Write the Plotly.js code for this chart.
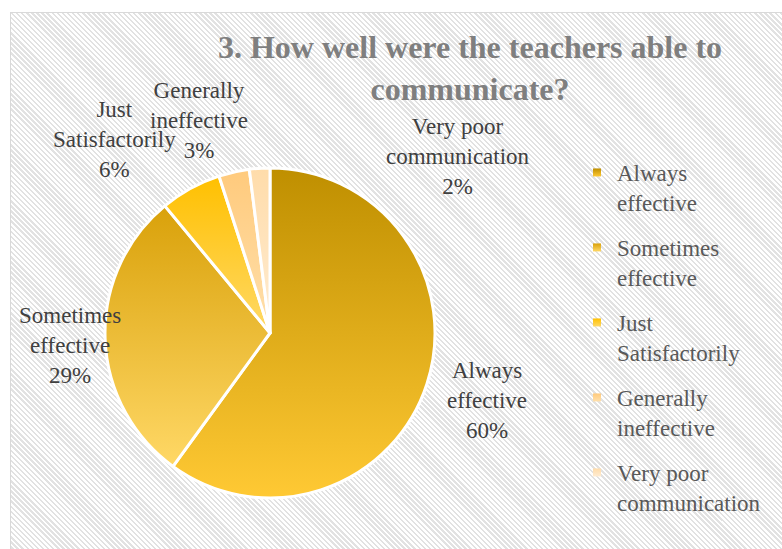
<!DOCTYPE html>
<html>
<head>
<meta charset="utf-8">
<script src="https://cdn.plot.ly/plotly-3.0.1.min.js"></script>
<style>
  html, body { margin: 0; padding: 0; background: #ffffff; }
  #wrap { position: relative; width: 782px; height: 549px; overflow: hidden; background: #ffffff; }
  #frame {
    position: absolute; left: 10px; top: 12px; width: 780px; height: 545px;
    border: 1px solid #d9d9d9; box-sizing: border-box;
    background: repeating-linear-gradient(45deg, #ffffff 0px, #ffffff 1.9px, #e2e2e2 1.9px, #e2e2e2 3.6px);
  }
  #chart { position: absolute; left: 0; top: 0; width: 782px; height: 549px; }
</style>
</head>
<body>
<div id="wrap">
  <div id="frame"></div>
  <div id="chart"></div>
</div>
<script>
// ---- data ----
const categories = ['Always effective', 'Sometimes effective', 'Just Satisfactorily', 'Generally ineffective', 'Very poor communication'];
const legendLabels = ['Always<br>effective', 'Sometimes<br>effective', 'Just<br>Satisfactorily', 'Generally<br>ineffective', 'Very poor<br>communication'];
const values = [60, 29, 6, 3, 2];
const titleText = '3. How well were the teachers able to<br>communicate?';

// ---- styles ----
const SERIF = 'Liberation Serif, Times New Roman, serif';
const baseColors = ['#DCA91C', '#EDBC3A', '#FFCB3A', '#FFD595', '#FFE4BE'];
const gradTop = ['#BF8F00', '#D9A10A', '#FFC000', '#FFCA7C', '#FFDCAA'];
const gradBottom = ['#FFC934', '#FFD866', '#FFD966', '#FFE0AC', '#FFECD2'];
// label anchor positions in pixels (layout only)
const labelPos = [[487, 400], [70, 345], [114, 139], [199, 120], [458, 156]];
const legendStep = 75;

const W = 782, H = 549;
const total = values.reduce((a, b) => a + b, 0);
const pctText = values.map(v => Math.round(v / total * 100) + '%');

const annotations = legendLabels.map((lab, i) => ({
  text: lab + '<br>' + pctText[i],
  xref: 'paper', yref: 'paper',
  x: labelPos[i][0] / W, y: 1 - labelPos[i][1] / H,
  xanchor: 'center', yanchor: 'middle',
  showarrow: false, align: 'center',
  font: {family: SERIF, size: 23, color: '#404040'}
}));

const trace = {
  type: 'pie',
  labels: legendLabels,
  values: values,
  sort: false,
  direction: 'clockwise',
  rotation: 0,
  textinfo: 'none',
  hoverinfo: 'none',
  marker: {colors: baseColors, line: {color: '#ffffff', width: 3}},
  domain: {x: [105 / W, 435 / W], y: [1 - 498 / H, 1 - 168 / H]}
};

const layout = {
  width: W, height: H,
  margin: {l: 0, r: 0, t: 0, b: 0},
  paper_bgcolor: 'rgba(0,0,0,0)',
  plot_bgcolor: 'rgba(0,0,0,0)',
  title: {
    text: titleText,
    x: 470 / W, xanchor: 'center', xref: 'paper',
    y: 1 - 58 / H, yanchor: 'top', yref: 'container',
    font: {family: SERIF, size: 32, color: '#7F7F7F', weight: 'bold'}
  },
  showlegend: true,
  legend: {
    x: 577 / W, xanchor: 'left',
    y: 1 - 151 / H, yanchor: 'top',
    valign: 'top',
    bgcolor: 'rgba(0,0,0,0)',
    font: {family: SERIF, size: 23, color: '#595959'},
    traceorder: 'normal'
  },
  annotations: annotations
};

Plotly.newPlot('chart', [trace], layout, {displayModeBar: false, staticPlot: true}).then(function (gd) {
  const svg = gd.querySelector('svg.main-svg');
  const NS = 'http://www.w3.org/2000/svg';
  let defs = svg.querySelector('defs');
  if (!defs) { defs = document.createElementNS(NS, 'defs'); svg.insertBefore(defs, svg.firstChild); }
  gradTop.forEach((c, i) => {
    const g = document.createElementNS(NS, 'linearGradient');
    g.setAttribute('id', 'sliceGrad' + i);
    g.setAttribute('x1', '0'); g.setAttribute('y1', '0');
    g.setAttribute('x2', '0'); g.setAttribute('y2', '1');
    const s1 = document.createElementNS(NS, 'stop');
    s1.setAttribute('offset', '0'); s1.setAttribute('stop-color', c);
    const s2 = document.createElementNS(NS, 'stop');
    s2.setAttribute('offset', '1'); s2.setAttribute('stop-color', gradBottom[i]);
    g.appendChild(s1); g.appendChild(s2);
    defs.appendChild(g);
  });
  gd.querySelectorAll('g.slice').forEach(function (sl) {
    const d = sl.__data__;
    const idx = d && d.i !== undefined ? d.i : null;
    const p = sl.querySelector('path.surface');
    if (p && idx !== null) p.style.fill = 'url(#sliceGrad' + idx + ')';
  });
  // legend: gradient glyphs and Excel-like item spacing
  const sb = gd.querySelector('g.legend g.scrollbox');
  if (sb) sb.removeAttribute('clip-path');
  let y0 = null;
  gd.querySelectorAll('g.legend g.traces').forEach(function (tr, i) {
    const d = tr.__data__;
    const idx = d && d[0] && d[0].i !== undefined ? d[0].i : i;
    const p = tr.querySelector('.legendpoints path');
    if (p) {
      p.style.fill = 'url(#sliceGrad' + idx + ')';
      p.style.strokeWidth = '0';
      p.setAttribute('d', 'M4,4V-4H-4V4Z');
    }
    const t = tr.getAttribute('transform') || '';
    const m = /translate\(\s*([-\d.e]+)[ ,]+([-\d.e]+)\s*\)/.exec(t);
    if (m) {
      if (y0 === null) y0 = parseFloat(m[2]);
      tr.setAttribute('transform', 'translate(' + m[1] + ',' + (y0 + i * legendStep) + ')');
    }
  });
});
</script>
</body>
</html>
